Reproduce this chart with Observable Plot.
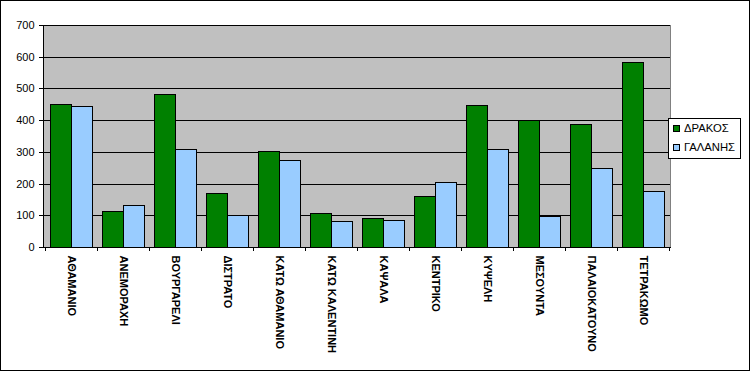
<!DOCTYPE html>
<html>
<head>
<meta charset="utf-8">
<script src="https://cdn.jsdelivr.net/npm/d3@7"></script>
<script src="https://cdn.jsdelivr.net/npm/@observablehq/plot@0.6"></script>
<style>
  html, body { margin: 0; padding: 0; background: #fff; }
  #wrap { position: relative; width: 750px; height: 371px; box-sizing: border-box; border: 1px solid #000; background: #fff; overflow: hidden; font-family: "Liberation Sans", Arial, sans-serif; }
  #chart svg { display: block; }
  #legend { position: absolute; left: 667px; top: 117px; width: 73px; height: 41px; box-sizing: border-box; border: 1px solid #000; background: #fff; }
  .row { position: absolute; left: 4px; height: 14px; display: flex; align-items: center; font-size: 11.3px; color: #000; white-space: nowrap; }
  .sw { width: 5px; height: 5px; border: 1px solid #000; margin-right: 4px; }
</style>
</head>
<body>
<div id="wrap"><div id="chart"></div><div id="legend"></div></div>
<script>
const categories = ["ΑΘΑΜΑΝΙΟ", "ΑΝΕΜΟΡΑΧΗ", "ΒΟΥΡΓΑΡΕΛΙ", "ΔΙΣΤΡΑΤΟ", "ΚΑΤΩ ΑΘΑΜΑΝΙΟ", "ΚΑΤΩ ΚΑΛΕΝΤΙΝΗ", "ΚΑΨΑΛΑ", "ΚΕΝΤΡΙΚΟ", "ΚΥΨΕΛΗ", "ΜΕΣΟΥΝΤΑ", "ΠΑΛΑΙΟΚΑΤΟΥΝΟ", "ΤΕΤΡΑΚΩΜΟ"];
const drakos  = [450, 113, 481, 169, 302, 106, 90, 160, 447, 398, 387, 582];
const galanis = [443, 131, 308, 99, 273, 81, 84, 204, 308, 97, 248, 175];
const series = ["ΔΡΑΚΟΣ", "ΓΑΛΑΝΗΣ"];
const colors = ["#008000", "#99CCFF"];
const yTicks = [0, 100, 200, 300, 400, 500, 600, 700];

const data = categories.flatMap((c, i) => [
  {cat: c, s: series[0], v: drakos[i]},
  {cat: c, s: series[1], v: galanis[i]}
]);

function excelFrame(index, scales, values, dims) {
  const x = scales.x;
  const bw = typeof x.bandwidth === "function" ? x.bandwidth() : (x.bandwidth ?? (x(categories[1]) - x(categories[0])));
  const left = dims.marginLeft, right = dims.width - dims.marginRight;
  const top = dims.marginTop, bottom = dims.height - dims.marginBottom;
  const g = d3.create("svg:g").attr("shape-rendering", "crispEdges");
  // right border (gray)
  g.append("line").attr("x1", right).attr("x2", right).attr("y1", top).attr("y2", bottom).attr("stroke", "#808080");
  // left axis line
  g.append("line").attr("x1", left).attr("x2", left).attr("y1", top).attr("y2", bottom).attr("stroke", "#000");
  // bottom axis line
  g.append("line").attr("x1", left).attr("x2", right + 1).attr("y1", bottom).attr("y2", bottom).attr("stroke", "#000");
  // category boundary ticks
  const edges = categories.map(c => x(c)).concat([x(categories[categories.length - 1]) + bw]);
  for (const e of edges) {
    g.append("line").attr("x1", e).attr("x2", e).attr("y1", bottom).attr("y2", bottom + 4).attr("stroke", "#000");
  }
  return g.node();
}

const chart = Plot.plot({
  width: 748,
  height: 369,
  marginLeft: 42,
  marginRight: 79,
  marginTop: 24,
  marginBottom: 123,
  style: {fontFamily: "'Liberation Sans', Arial, sans-serif", fontSize: "11px", color: "#000", background: "transparent", overflow: "visible"},
  x: {domain: categories, padding: 0},
  y: {domain: [0, 700]},
  color: {domain: series, range: colors},
  marks: [
    Plot.frame({fill: "#C0C0C0", stroke: null}),
    Plot.gridY(yTicks.filter(d => d > 0), {stroke: "#000", strokeOpacity: 1, shapeRendering: "crispEdges"}),
    Plot.barY(data.filter(d => d.s === series[0]), {x: "cat", y: "v", fill: "s", stroke: "#000", strokeWidth: 1, insetLeft: 5, insetRight: 26, shapeRendering: "crispEdges"}),
    Plot.barY(data.filter(d => d.s === series[1]), {x: "cat", y: "v", fill: "s", stroke: "#000", strokeWidth: 1, insetLeft: 26, insetRight: 5, shapeRendering: "crispEdges"}),
    excelFrame,
    Plot.axisY({ticks: yTicks, tickSize: 4, tickPadding: 5, label: null, fontSize: 11, tickFormat: d => String(d), shapeRendering: "crispEdges"}),
    Plot.axisX({tickSize: 0, tickPadding: 8, tickRotate: 90, label: null, fontSize: 11, fontWeight: "bold"})
  ]
});
document.getElementById("chart").appendChild(chart);

const legend = document.getElementById("legend");
series.forEach((s, i) => {
  const row = document.createElement("div");
  row.className = "row";
  row.style.top = (2 + i * 19.3) + "px";
  const sw = document.createElement("div");
  sw.className = "sw";
  sw.style.background = colors[i];
  const t = document.createElement("span");
  t.textContent = s;
  row.appendChild(sw);
  row.appendChild(t);
  legend.appendChild(row);
});
</script>
</body>
</html>
